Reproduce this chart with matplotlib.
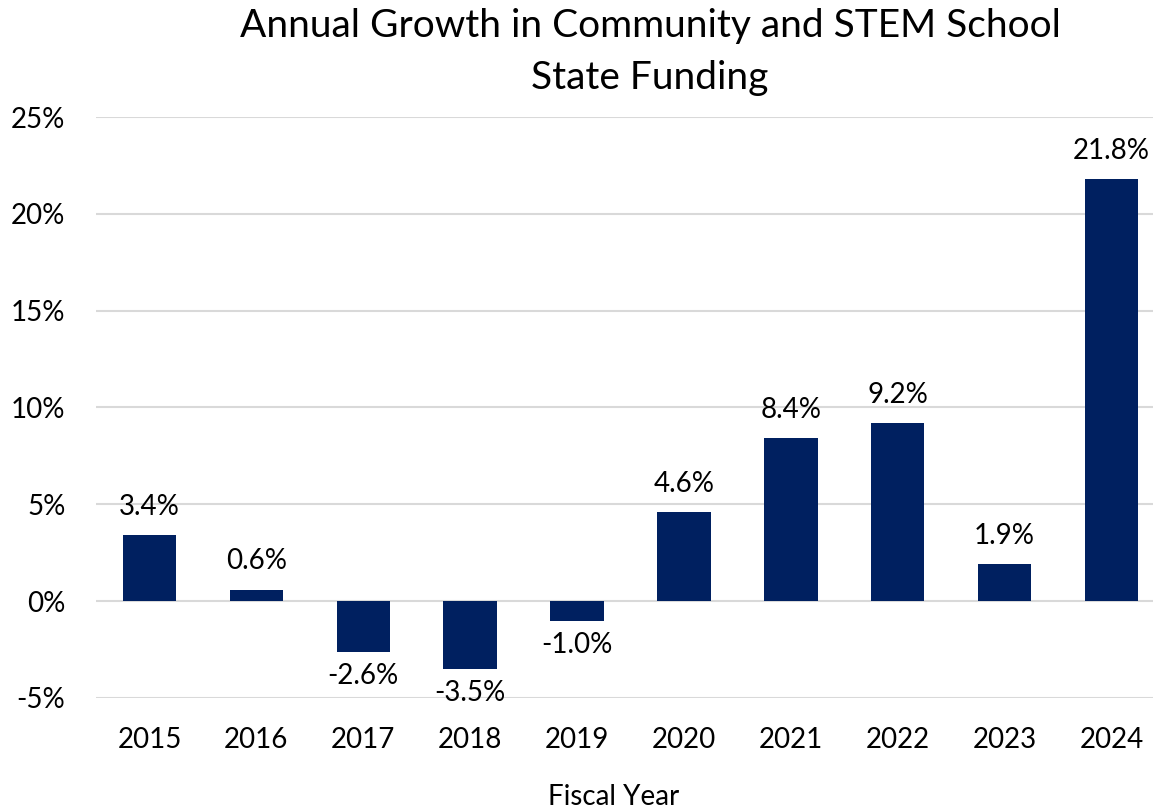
import matplotlib
matplotlib.use('Agg')
import matplotlib.pyplot as plt
from matplotlib.ticker import FuncFormatter

# data
years = ['2015', '2016', '2017', '2018', '2019', '2020', '2021', '2022', '2023', '2024']
growth = [3.4, 0.6, -2.6, -3.5, -1.0, 4.6, 8.4, 9.2, 1.9, 21.8]
y_ticks = [-5, 0, 5, 10, 15, 20, 25]

plt.rcParams['font.family'] = ['Lato', 'DejaVu Sans']

fig = plt.figure(figsize=(11.53, 8.11), dpi=100)
# axes reaches a bit past the right edge, like the original
ax = fig.add_axes([96 / 1153, 1 - 698 / 811, 1069 / 1153, 581 / 811])

x = range(len(years))
bars = ax.bar(x, growth, width=0.5, color='#002060', zorder=3)

ax.set_xlim(-0.5, len(years) - 0.5)
ax.set_ylim(-5, 25)
ax.set_yticks(y_ticks)
ax.yaxis.set_major_formatter(FuncFormatter(lambda v, _: f'{v:.0f}%'))
ax.set_xticks(list(x))
ax.set_xticklabels(years)
ax.grid(axis='y', color='#d9d9d9', linewidth=1.5, zorder=0)
ax.tick_params(axis='both', length=0, labelsize=20)
ax.tick_params(axis='y', pad=22)
ax.tick_params(axis='x', pad=21)
for s in ax.spines.values():
    s.set_visible(False)

for b, v in zip(bars, growth):
    if v >= 0:
        ax.annotate(f'{v:.1f}%', (b.get_x() + b.get_width() / 2, v),
                    xytext=(0, 11), textcoords='offset points',
                    ha='center', va='bottom', fontsize=20)
    else:
        ax.annotate(f'{v:.1f}%', (b.get_x() + b.get_width() / 2, v),
                    xytext=(0, -8), textcoords='offset points',
                    ha='center', va='top', fontsize=20)

fig.suptitle('Annual Growth in Community and STEM School\nState Funding',
             x=650 / 1153, y=1 - 8 / 811, fontsize=28, va='top', linespacing=1.55)
fig.text(614 / 1153, 1 - 797 / 811, 'Fiscal Year', ha='center', va='center', fontsize=20)

fig.savefig('out.png', dpi=100)
